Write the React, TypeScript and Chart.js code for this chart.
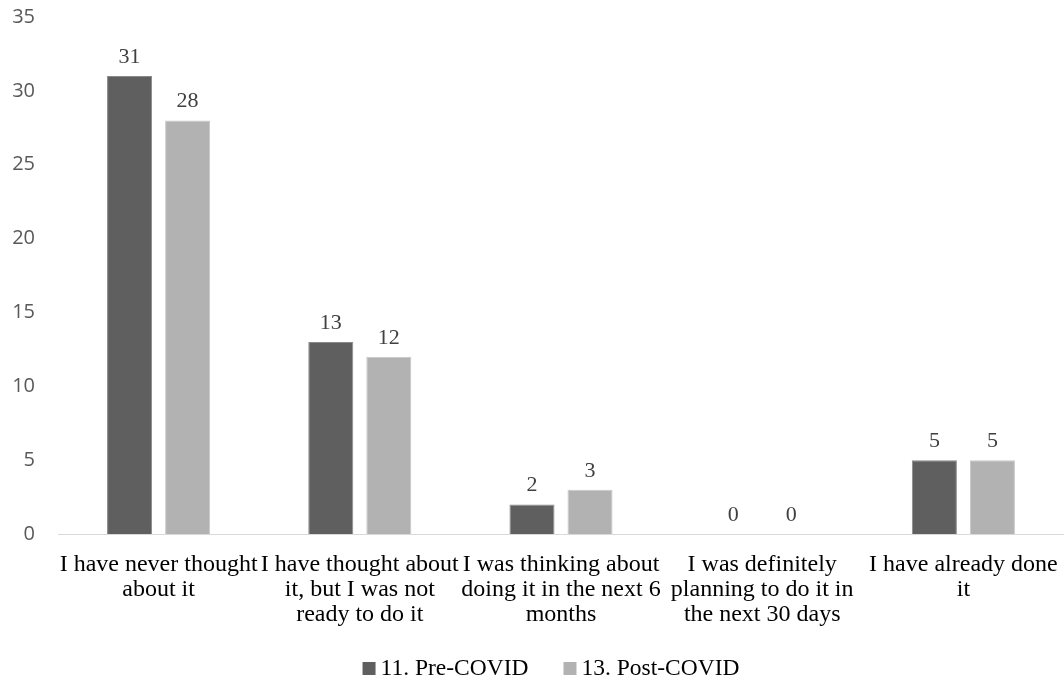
import React, { useEffect, useRef } from "react";
import { Chart, registerables } from "chart.js";

Chart.register(...registerables);

const categories: string[][] = [
  ["I have never thought", "about it"],
  ["I have thought about", "it, but I was not", "ready to do it"],
  ["I was thinking about", "doing it in the next 6", "months"],
  ["I was definitely", "planning to do it in", "the next 30 days"],
  ["I have already done", "it"],
];
const preCovid = [31, 13, 2, 0, 5];
const postCovid = [28, 12, 3, 0, 5];
const seriesNames = ["11. Pre-COVID", "13. Post-COVID"];
const seriesColors = ["#5f5f5f", "#b2b2b2"];

const SERIF = "'Liberation Serif', 'Times New Roman', serif";

const dataLabels = {
  id: "dataLabels",
  afterDatasetsDraw(chart: any) {
    const ctx = chart.ctx;
    ctx.save();
    ctx.font = `22px ${SERIF}`;
    ctx.fillStyle = "#404040";
    ctx.textAlign = "center";
    ctx.textBaseline = "alphabetic";
    chart.data.datasets.forEach((ds: any, i: number) => {
      const meta = chart.getDatasetMeta(i);
      meta.data.forEach((bar: any, j: number) => {
        ctx.fillText(String(ds.data[j]), bar.x, bar.y - 13);
      });
    });
    ctx.restore();
  },
};

const bottomLegend = {
  id: "bottomLegend",
  afterDraw(chart: any) {
    const ctx = chart.ctx;
    ctx.save();
    ctx.font = `23.5px ${SERIF}`;
    ctx.textBaseline = "alphabetic";
    const box = 13;
    const gap = 5;
    const itemGap = 35;
    const widths = seriesNames.map((n) => ctx.measureText(n).width);
    const total = widths.reduce((a, w) => a + box + gap + w, 0) + itemGap * (seriesNames.length - 1);
    const center = (chart.chartArea.left + chart.chartArea.right) / 2 - 10;
    let x = center - total / 2;
    const baseline = 675;
    seriesNames.forEach((n, i) => {
      ctx.fillStyle = seriesColors[i];
      ctx.fillRect(x, baseline - box, box, box);
      x += box + gap;
      ctx.fillStyle = "#000";
      ctx.fillText(n, x, baseline);
      x += widths[i] + itemGap;
    });
    ctx.restore();
  },
};

export default function App() {
  const ref = useRef<HTMLCanvasElement | null>(null);
  useEffect(() => {
    if (!ref.current) return;
    const chart = new Chart(ref.current, {
      type: "bar",
      data: {
        labels: categories,
        datasets: [
          {
            label: seriesNames[0],
            data: preCovid,
            backgroundColor: seriesColors[0],
            borderColor: "#8a8a8a",
            borderWidth: 1,
            categoryPercentage: 0.577,
            barPercentage: 0.776,
          },
          {
            label: seriesNames[1],
            data: postCovid,
            backgroundColor: seriesColors[1],
            borderColor: "#c8c8c8",
            borderWidth: 1,
            categoryPercentage: 0.577,
            barPercentage: 0.776,
          },
        ],
      },
      options: {
        animation: false,
        responsive: true,
        maintainAspectRatio: false,
        layout: { padding: { left: 0, right: 0, top: 17, bottom: 0 } },
        plugins: {
          legend: { display: false },
          tooltip: { enabled: false },
        },
        scales: {
          x: {
            grid: { display: false },
            border: { display: true, color: "#d9d9d9", width: 1 },
            ticks: {
              color: "#000",
              font: { family: SERIF, size: 24, lineHeight: "25px" },
              maxRotation: 0,
              autoSkip: false,
              padding: 10,
            },
            afterFit: (scale: any) => {
              scale.paddingLeft = 0;
              scale.paddingRight = 0;
              scale.height = 146;
            },
          },
          y: {
            min: 0,
            max: 35,
            grid: { display: false },
            border: { display: false },
            ticks: {
              stepSize: 5,
              color: "#595959",
              font: { family: "'Open Sans', sans-serif", size: 20 },
              padding: 15,
            },
            afterFit: (scale: any) => {
              scale.paddingTop = 0;
              scale.paddingBottom = 0;
              scale.width = 58;
            },
          },
        },
      },
      plugins: [dataLabels, bottomLegend],
    });
    return () => chart.destroy();
  }, []);
  return (
    <div style={{ position: "fixed", left: 0, top: 0, width: 1064, height: 680, background: "#fff" }}>
      <canvas ref={ref} />
    </div>
  );
}
